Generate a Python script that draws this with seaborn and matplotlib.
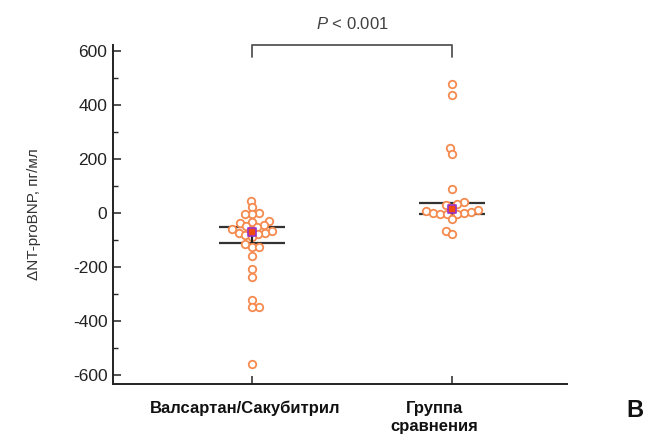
import matplotlib
matplotlib.use("Agg")
import matplotlib.pyplot as plt
import matplotlib.transforms as mtransforms
from matplotlib.ticker import MultipleLocator
import numpy as np
import pandas as pd
import seaborn as sns

# data
groups = ["Валсартан/Сакубитрил", "Группа\nсравнения"]
valsartan = [46, 21, 0, -5, -2, -28, -32, -36, -46, -48, -51, -60, -65,
             -68, -73, -73, -78, -83, -90, -116, -125, -125, -158, -206,
             -236, -322, -349, -349, -560]
comparison = [478, 436, 242, 218, 89, 42, 33, 30, 15, 12, 9, 3, 0, -1,
              -4, -4, -4, -23, -66, -78]
upper_line = [-52, 37]
lower_line = [-111, -4]
center_val = [-70, 15]
p_text = "$P$ < 0.001"

df = pd.DataFrame({
    "group": [groups[0]] * len(valsartan) + [groups[1]] * len(comparison),
    "value": valsartan + comparison,
})

sns.set_theme(style="ticks")
plt.rcParams["font.family"] = ["Liberation Sans", "DejaVu Sans"]
plt.rcParams["axes.unicode_minus"] = False
plt.rcParams["mathtext.fontset"] = "custom"
plt.rcParams["mathtext.it"] = "Liberation Sans:italic"

fig = plt.figure(figsize=(6.51, 4.41), dpi=100)
ax = fig.add_axes([0.1736, 0.1293, 0.6974, 0.7687])
ax.set_ylim(-633, 622)

orange = "#F58A4E"
# lay out the swarm with a small size so circles overlap like the original
sns.swarmplot(data=df, x="group", y="value", order=groups, ax=ax,
              size=3.9, marker="o", linewidth=1.0, zorder=3)
ax.set_xlim(-0.695, 1.575)
ax.set_ylim(-633, 622)
fig.canvas.draw()
for coll in ax.collections:
    if "draw" in coll.__dict__:
        del coll.draw  # freeze swarm positions
    coll.set_facecolor("white")
    coll.set_edgecolor(orange)
    coll.set_linewidth(1.3)
    coll.set_sizes([5.4 ** 2])

pos = np.arange(len(groups))
hw = 0.165
ax.hlines(upper_line, pos - hw, pos + hw, color="#333333", lw=1.6, zorder=2)
ax.hlines(lower_line, pos - hw, pos + hw, color="#333333", lw=1.6, zorder=2)
ax.vlines(pos, lower_line, center_val, color="#222222", lw=1.6, zorder=4)
ax.scatter(pos, center_val, marker="s", s=34, facecolor="#F04A10",
           edgecolor="#9932CC", linewidth=1.2, zorder=5)

ax.set_xlim(-0.695, 1.575)
ax.set_ylim(-633, 622)
ax.yaxis.set_major_locator(MultipleLocator(200))
ax.yaxis.set_minor_locator(MultipleLocator(100))
ax.tick_params(axis="y", which="major", direction="in", length=6,
               width=1.1, labelsize=12.5, colors="#222222", pad=4)
ax.tick_params(axis="y", which="minor", direction="in", length=3.5, width=1.0)
ax.tick_params(axis="x", which="major", direction="in", length=6,
               width=1.1, pad=12)
ax.set_xticks(pos)
ax.set_xticklabels(groups, fontsize=12, fontweight="bold", color="#111111",
                   linespacing=1.3)
offsets = [-7, -18]
for lab, dx in zip(ax.get_xticklabels(), offsets):
    lab.set_transform(lab.get_transform() +
                      mtransforms.ScaledTranslation(dx / 100, 0, fig.dpi_scale_trans))
ax.set_xlabel("")
ax.set_ylabel("ΔNT-proBNP, пг/мл", fontsize=11, color="#333333", labelpad=23)
for side in ["left", "bottom"]:
    ax.spines[side].set_linewidth(1.4)
    ax.spines[side].set_color("#222222")
sns.despine(ax=ax)

# significance bracket
ax.plot([0, 0, 1, 1], [578, 622, 622, 578], color="#555555", lw=1.3,
        clip_on=False)
ax.text(0.5, 670, p_text, ha="center", va="bottom", fontsize=12,
        color="#404040")
fig.text(0.975, 0.07, "B", fontsize=17, fontweight="bold", ha="center",
         va="center", color="#111111")

fig.savefig("out.png", dpi=100)
